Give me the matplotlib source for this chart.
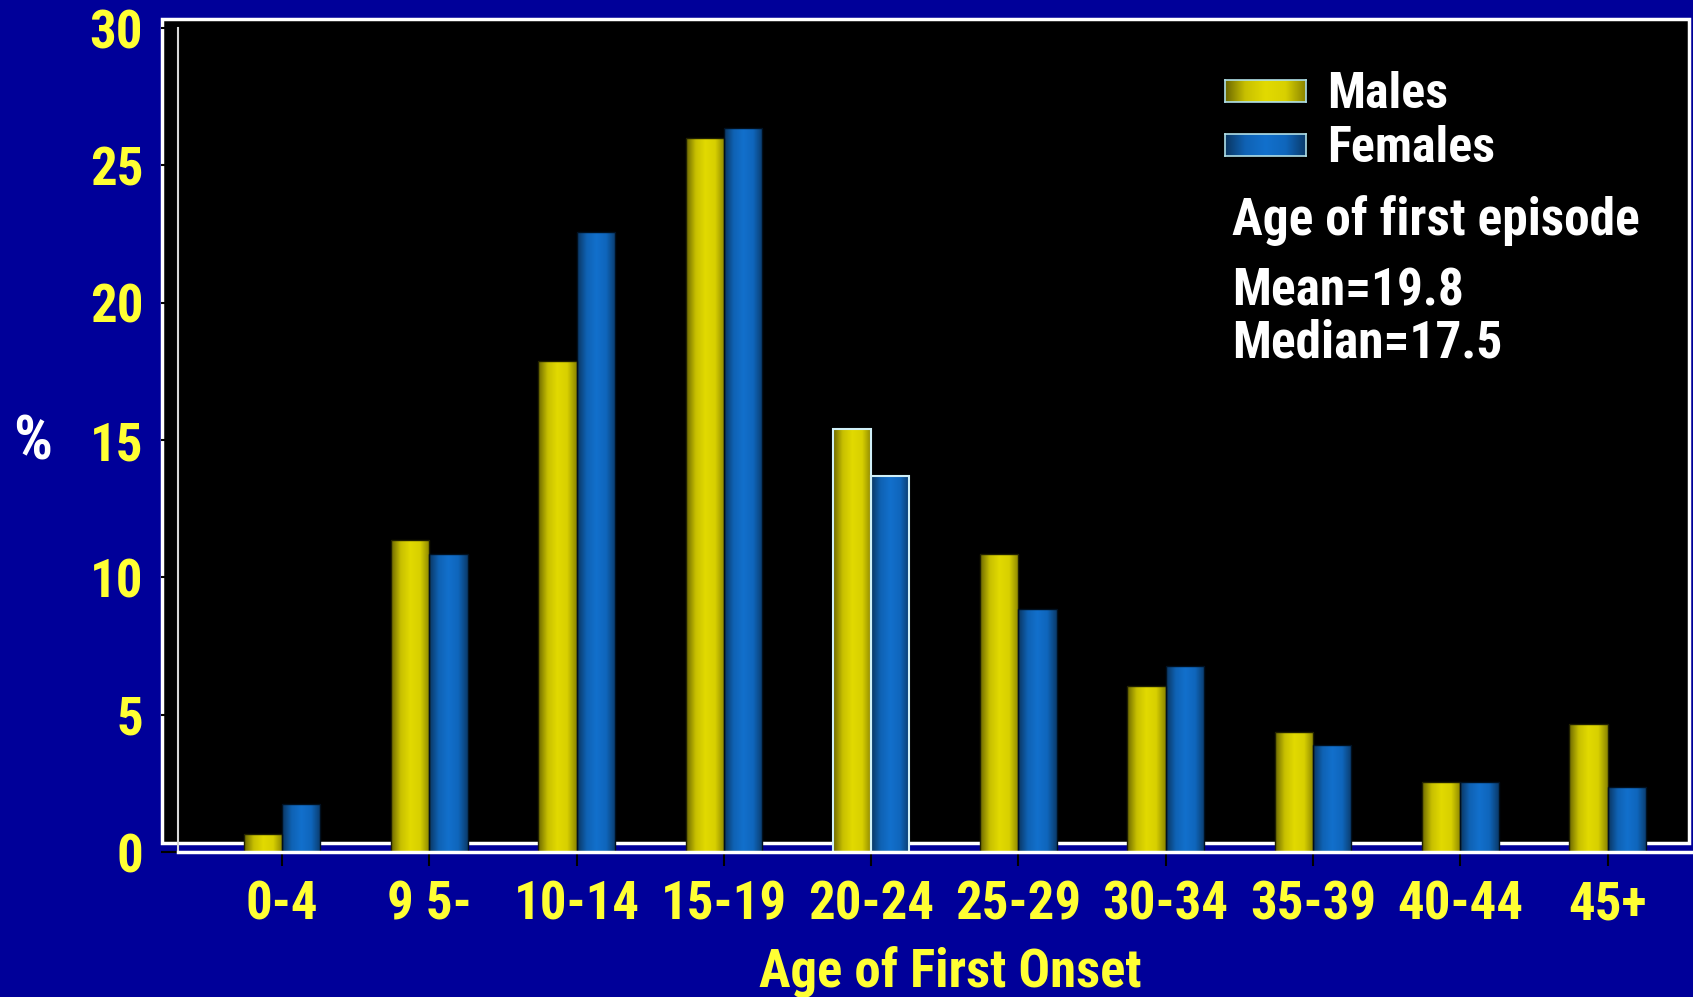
import numpy as np
import matplotlib
matplotlib.use('Agg')
import matplotlib.pyplot as plt
from matplotlib.colors import LinearSegmentedColormap
from matplotlib.patches import Rectangle

plt.rcParams['font.family'] = ['Roboto Condensed', 'Archivo Narrow', 'Open Sans Condensed',
                               'Liberation Sans', 'DejaVu Sans']
plt.rcParams['font.weight'] = 'bold'

# data
age_groups = ['0-4', '9 5-', '10-14', '15-19', '20-24', '25-29', '30-34', '35-39', '40-44', '45+']
males = [0.66, 11.36, 17.86, 26.0, 15.4, 10.85, 6.06, 4.37, 2.55, 4.66]
females = [1.75, 10.85, 22.56, 26.36, 13.69, 8.85, 6.76, 3.9, 2.55, 2.37]
yticks = [0, 5, 10, 15, 20, 25, 30]

bg = '#000099'
yellow_cm = LinearSegmentedColormap.from_list('y', ['#6a6600', '#c8c000', '#e2da00', '#d8d000', '#8a8400'])
blue_cm = LinearSegmentedColormap.from_list('b', ['#0a3560', '#0f62b4', '#1270cc', '#0f66bc', '#0a3a6a'])
grad = np.linspace(0, 1, 256).reshape(1, -1)

fig = plt.figure(figsize=(16.93, 9.97), dpi=100, facecolor=bg)

# black backdrop panel with white frame
fig.patches.append(Rectangle((0.0957, 0.1545), 0.9019, 0.8265, transform=fig.transFigure,
                             facecolor='black', edgecolor='white', linewidth=2.5, zorder=-1))

ax = fig.add_axes([0.1051, 0.1454, 0.8949, 0.8265])
ax.set_facecolor('none')

x = np.arange(len(age_groups))
w = 0.26
bars_m = ax.bar(x - w / 2, males, w, color='#e2da00', edgecolor='#202000', linewidth=1, zorder=2)
bars_f = ax.bar(x + w / 2, females, w, color='#1270cc', edgecolor='#001020', linewidth=1, zorder=2)
bars_m[4].set_edgecolor('#d0f0f8')
bars_f[4].set_edgecolor('#d0f0f8')
bars_m[4].set_linewidth(1.5)
bars_f[4].set_linewidth(1.5)

# gradient fill on each bar
for bars, cm in ((bars_m, yellow_cm), (bars_f, blue_cm)):
    for b in bars:
        bx, by = b.get_x(), b.get_y()
        im = ax.imshow(grad, cmap=cm, aspect='auto', extent=(bx, bx + b.get_width(), by, by + b.get_height()),
                       zorder=1.5, interpolation='bilinear')
        im.set_clip_path(b)
        b.set_facecolor('none')

ax.set_xlim(-0.706, 9.58)
ax.set_ylim(0, 30)
ax.set_yticks(yticks)
ax.set_xticks(x)
ax.set_xticklabels(age_groups)
ax.tick_params(axis='y', colors='black', labelcolor='#ffff33', labelsize=38, length=12, width=1.5, pad=13)
ax.tick_params(axis='x', colors='black', labelcolor='#ffff33', labelsize=38, length=10, width=1.5, pad=10)
for s in ax.get_yticklabels() + ax.get_xticklabels():
    s.set_fontweight('bold')

for side in ['top', 'right']:
    ax.spines[side].set_visible(False)
ax.spines['left'].set_color('#d8d8d8')
ax.spines['left'].set_linewidth(1.5)
ax.spines['bottom'].set_color('white')
ax.spines['bottom'].set_linewidth(2.5)

fig.text(0.5611, 0.025, 'Age of First Onset', color='#ffff33', fontsize=38, fontweight='bold',
         ha='center', va='center')
fig.text(0.019, 0.556, '%', color='white', fontsize=44, fontweight='bold', ha='center', va='center')

# legend swatches and texts
for i, (cm, lab) in enumerate(((yellow_cm, 'Males'), (blue_cm, 'Females'))):
    yc = [91, 145][i]
    sw = fig.add_axes([1225 / 1693, 1 - (yc + 11) / 997, 81 / 1693, 22 / 997])
    sw.imshow(grad, cmap=cm, aspect='auto', interpolation='bilinear')
    sw.set_xticks([])
    sw.set_yticks([])
    for s in sw.spines.values():
        s.set_color('#b0e0e8')
        s.set_linewidth(1.2)
    fig.text(1327 / 1693, 1 - (yc + 3) / 997, lab, color='white', fontsize=36, fontweight='bold', va='center')

fig.text(1232 / 1693, 1 - 221 / 997, 'Age of first episode', color='white', fontsize=37,
         fontweight='bold', va='center')
fig.text(1232 / 1693, 1 - 291 / 997, 'Mean=19.8', color='white', fontsize=37, fontweight='bold', va='center')
fig.text(1232 / 1693, 1 - 343 / 997, 'Median=17.5', color='white', fontsize=37, fontweight='bold', va='center')

fig.savefig('out.png', dpi=100, facecolor=bg)
